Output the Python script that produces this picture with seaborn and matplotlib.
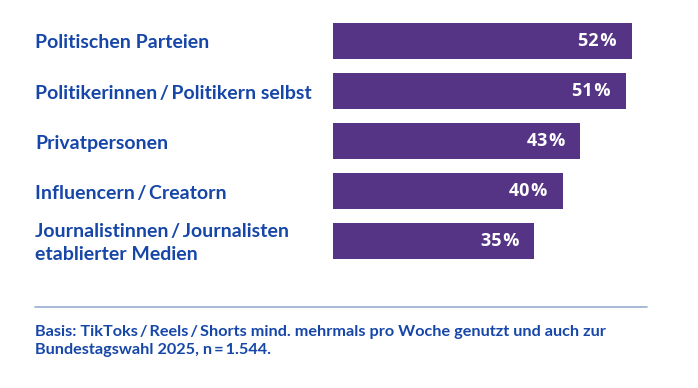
import matplotlib
matplotlib.use("Agg")
import matplotlib.pyplot as plt
import seaborn as sns
import pandas as pd
from matplotlib.transforms import blended_transform_factory

categories = [
    "Politischen Parteien",
    "Politikerinnen\u2009/\u2009Politikern selbst",
    "Privatpersonen",
    "Influencern\u2009/\u2009Creatorn",
    "Journalistinnen\u2009/\u2009Journalisten\netablierter Medien",
]
values = [52, 51, 43, 40, 35]
value_labels = ["52\u200a%", "51\u200a%", "43\u200a%", "40\u200a%", "35\u200a%"]
footnote = ("Basis: TikToks\u2009/\u2009Reels\u2009/\u2009Shorts mind. mehrmals pro Woche genutzt und auch zur\n"
            "Bundestagswahl 2025, n\u2009=\u20091.544.")

BAR = "#553486"
BLUE = "#1646a8"
LINE = "#9aaed0"

sns.set_theme(style="white")
plt.rcParams['font.family'] = ['Lato', 'DejaVu Sans']

W, H = 698, 388
fig = plt.figure(figsize=(W / 100, H / 100), dpi=100)
left_px, top_px, bot_px = 333, 15.5, 265.5
ax = fig.add_axes([left_px / W, 1 - bot_px / H, 1 - left_px / W, (bot_px - top_px) / H])

df = pd.DataFrame({"cat": categories, "val": values})
sns.barplot(data=df, x="val", y="cat", orient="h", color=BAR, width=0.72,
            saturation=1, ax=ax, edgecolor="none")
ax.set_xlim(0, (W - left_px) / 5.75)
ax.set_ylim(len(categories) - 0.5, -0.5)
ax.axis("off")

trans = blended_transform_factory(fig.transFigure, ax.transData)
for i, (c, v, lab) in enumerate(zip(categories, values, value_labels)):
    ax.text(35 / W, i + 0.05, c, transform=trans, ha="left", va="center", color=BLUE,
            fontsize=14, fontweight="bold", linespacing=1.4)
    ax.annotate(lab, xy=(v, i), xytext=(-11, 0), textcoords="offset points",
                ha="right", va="center", color="white", fontsize=13,
                fontweight="bold", family=["Open Sans", "DejaVu Sans"])

fig.add_artist(plt.Line2D([35 / W, 647 / W], [1 - 307 / H, 1 - 307 / H],
                          transform=fig.transFigure, color=LINE, lw=1.2))
fig.text(35 / W, 1 - 341 / H, footnote, ha="left", va="center", color=BLUE,
         fontsize=11.7, fontweight="bold", linespacing=1.45)

fig.savefig("out.png", dpi=100)
